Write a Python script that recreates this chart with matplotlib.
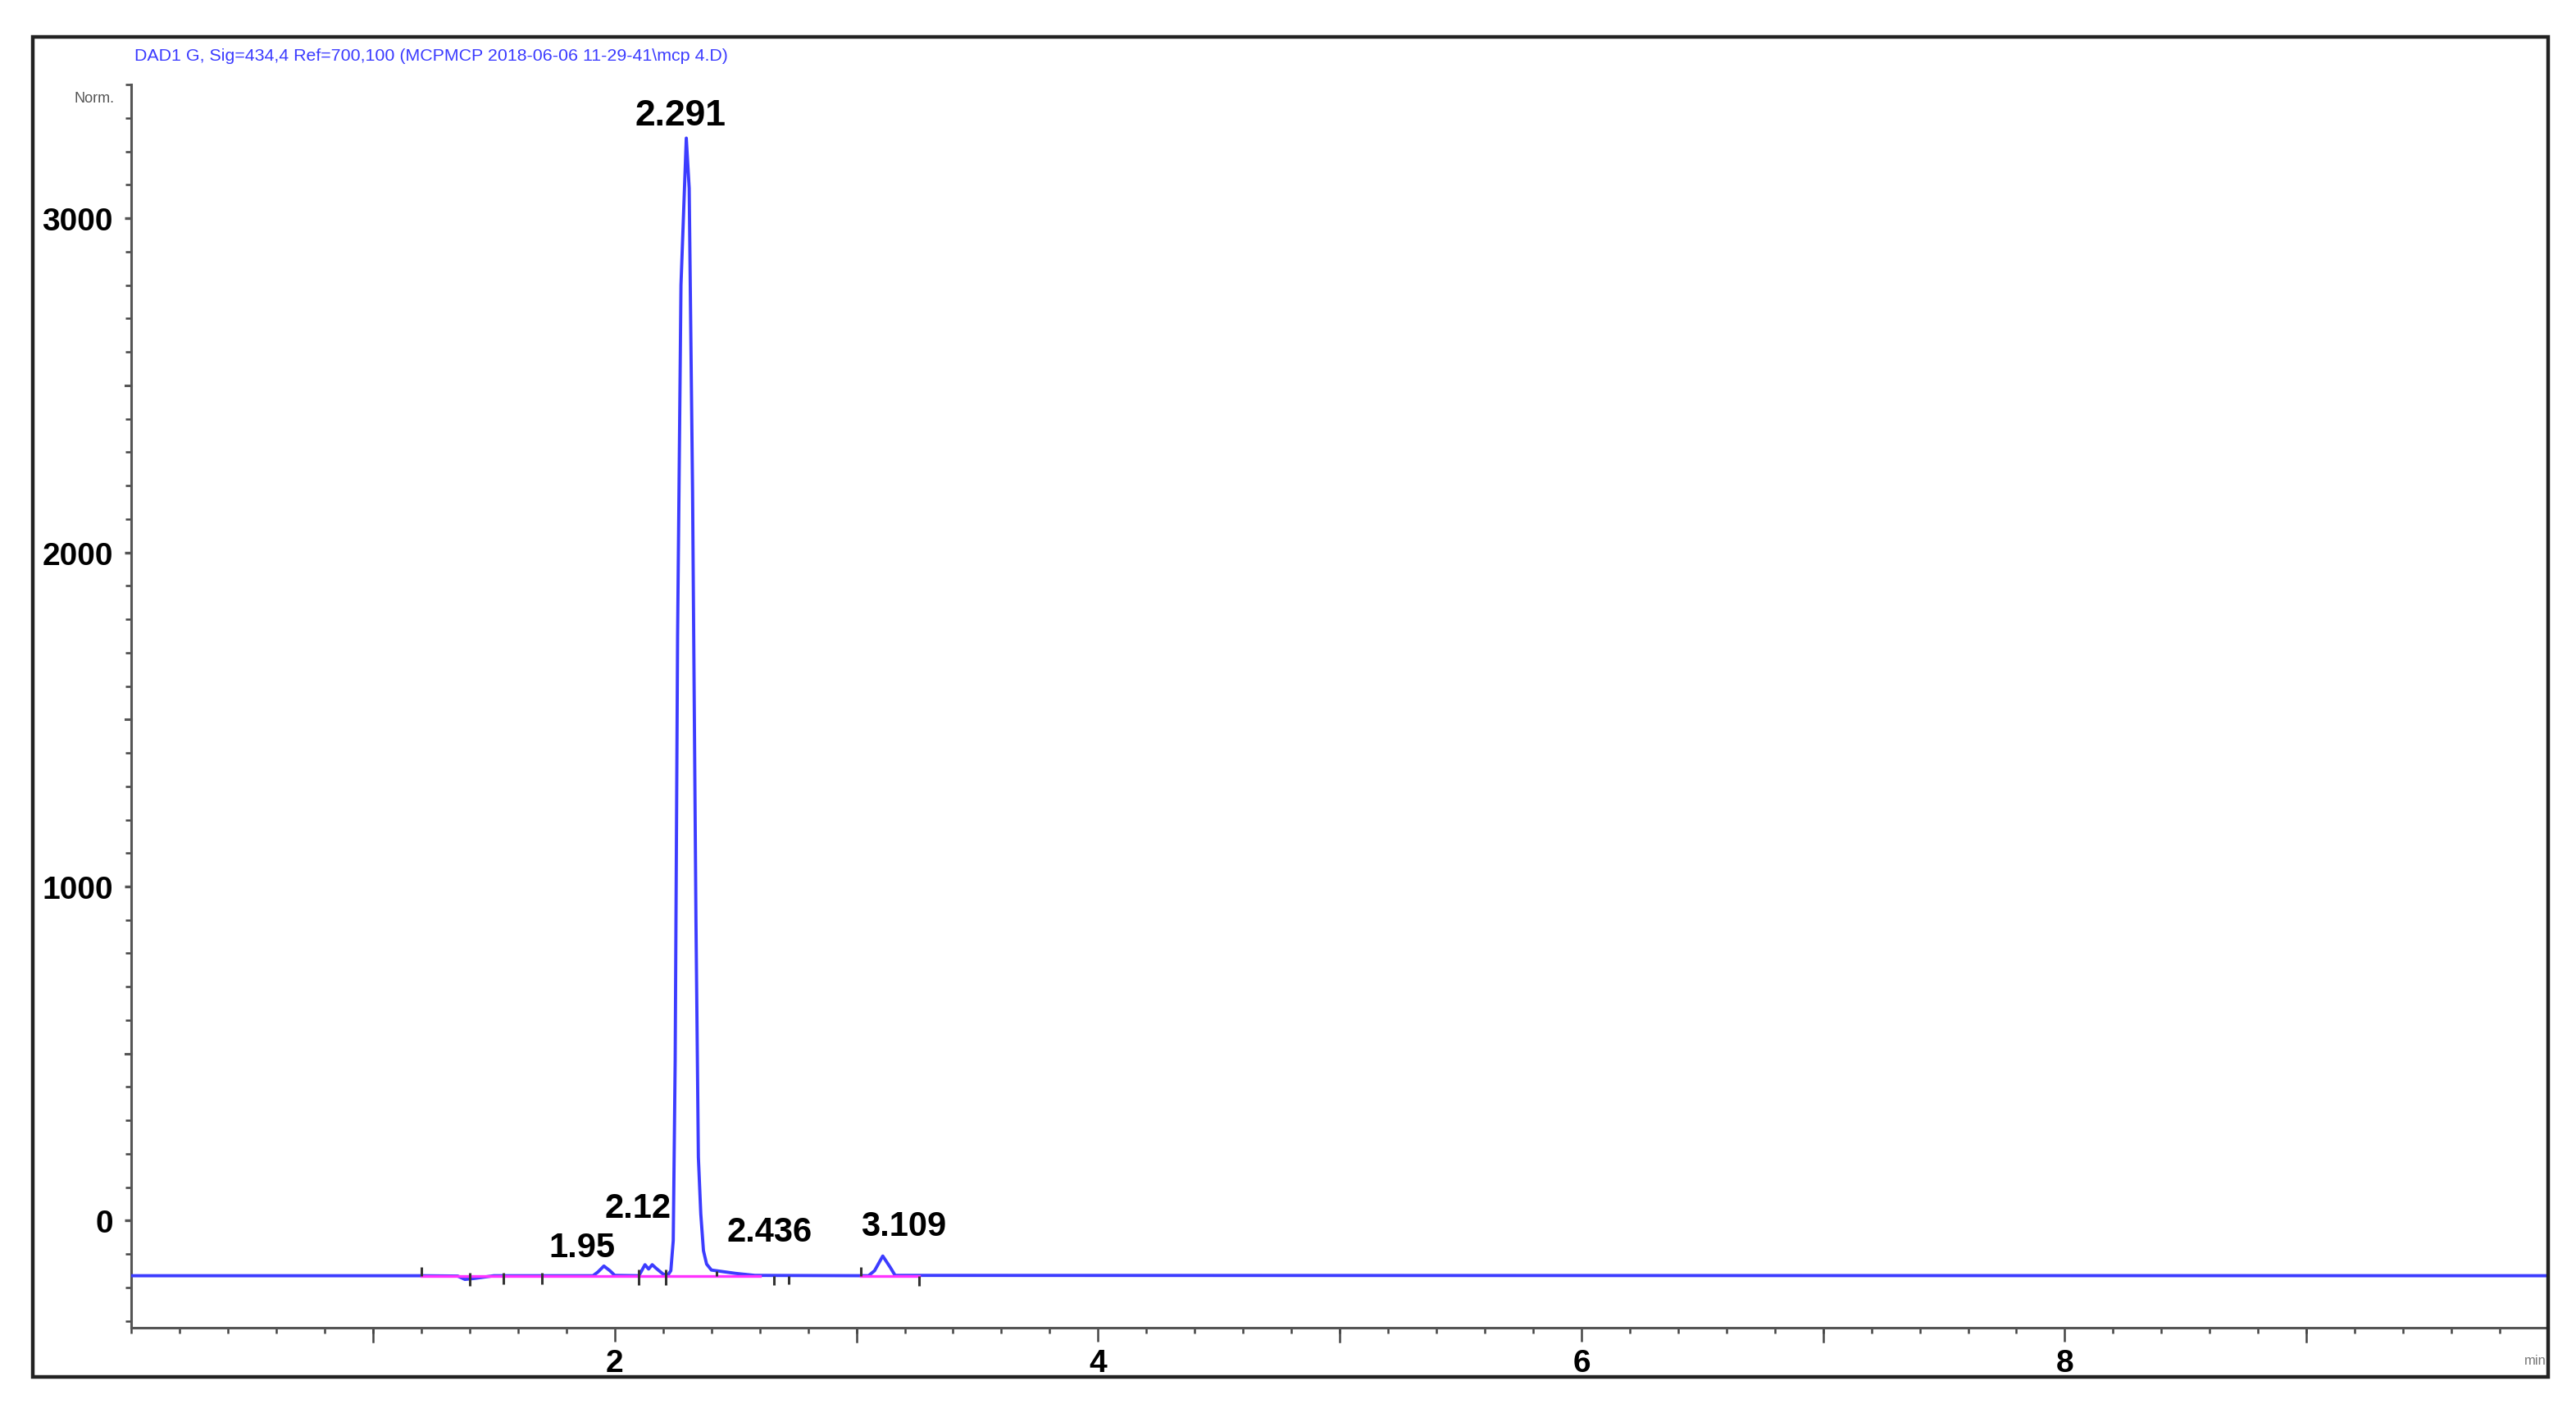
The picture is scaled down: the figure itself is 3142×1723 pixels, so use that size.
import numpy as np
import matplotlib
matplotlib.use("Agg")
import matplotlib.pyplot as plt
from matplotlib.patches import Rectangle
from matplotlib.ticker import MultipleLocator

plt.rcParams['font.family'] = ['Liberation Sans', 'DejaVu Sans']

# trace (min, mAU)
time = [0.0, 1.20, 1.35, 1.38, 1.42, 1.47, 1.50, 1.91, 1.93, 1.955, 1.98, 2.00,
        2.10, 2.125, 2.14, 2.155, 2.17, 2.20, 2.22, 2.232, 2.242, 2.250, 2.260, 2.274,
        2.296, 2.308, 2.322, 2.336, 2.346, 2.356, 2.367, 2.38, 2.40, 2.44,
        2.50, 2.58, 3.05, 3.075, 3.109, 3.14, 3.16, 10.0]
signal = [-165, -165, -166, -176, -173, -168, -165, -165, -154, -136, -150, -164,
          -165, -132, -145, -132, -142, -160, -163, -150, -60, 480, 1750, 2800,
          3240, 3090, 2180, 900, 190, 20, -90, -130, -148, -152,
          -158, -164, -165, -150, -106, -140, -164, -165]

# integration baselines (start, end)
base_start = [1.20, 3.02]
base_end = [2.60, 3.26]
base_level = -165

# integration event marks: time, low, high offsets
event_t = [1.20, 1.40, 1.54, 1.70, 2.10, 2.21, 2.42, 2.66, 2.72, 3.02, 3.26]
event_lo = [0, -30, -25, -25, -28, -28, 0, -28, -25, 0, -30]
event_hi = [25, 8, 10, 10, 18, 18, 14, 0, 0, 25, 0]

# peak labels
peak_lbl = ['2.291', '1.95', '2.12', '2.436', '3.109']
lbl_x = [2.273, 1.866, 2.096, 2.64, 3.195]
lbl_y = [3309, -79, 39, -34, -15]
lbl_size = [16, 15, 15, 15, 15]

# axis ticks
xtick_labels = [2, 4, 6, 8]
odd_minutes = [1, 3, 5, 7, 9]
half_steps = [500, 1500, 2500]

fig = plt.figure(figsize=(15.71, 8.62), dpi=200)
W, H = 1568.0, 860.0
ax = fig.add_axes([80 / W, 1 - 808 / H, (1551 - 80) / W, (808 - 52) / H])

ax.plot(time, signal, color='#3c3cff', lw=1.4, zorder=3)
for s, e in zip(base_start, base_end):
    ax.plot([s, e], [base_level, base_level], color='#ff33ff', lw=1.2, zorder=4)
ax.vlines(event_t, [base_level + l for l in event_lo],
          [base_level + h for h in event_hi], color='#333333', lw=1.1, zorder=5)

for t, x, y, fs in zip(peak_lbl, lbl_x, lbl_y, lbl_size):
    ax.text(x, y, t, ha='center', va='center', fontsize=fs,
            fontweight='bold', color='black')

ax.set_xlim(0, 10.0)
ax.set_ylim(-320, 3400)
ax.set_xticks(xtick_labels)
ax.xaxis.set_minor_locator(MultipleLocator(0.2))
ax.yaxis.set_major_locator(MultipleLocator(1000))
ax.yaxis.set_minor_locator(MultipleLocator(100))

for sp in ['top', 'right']:
    ax.spines[sp].set_visible(False)
for sp in ['left', 'bottom']:
    ax.spines[sp].set_color('#555555')
    ax.spines[sp].set_linewidth(1.1)

ax.tick_params(axis='x', which='major', length=6, width=0.9, color='#444444',
               labelsize=14, pad=3)
ax.tick_params(axis='x', which='minor', length=2.5, width=0.9, color='#444444')
ax.tick_params(axis='y', which='major', length=3, width=1.2, color='#555555',
               labelsize=14, pad=5)
ax.tick_params(axis='y', which='minor', length=2.5, width=0.9, color='#444444')
for lab in ax.get_xticklabels() + ax.get_yticklabels():
    lab.set_fontweight('bold')

# odd-minute ticks are as long as the labelled ones
for m in odd_minutes:
    ax.plot([m, m], [0, -0.0112], transform=ax.get_xaxis_transform(),
            color='#444444', lw=0.9, clip_on=False)
# half-thousand ticks on y are a little longer
for v in half_steps:
    ax.plot([0, -0.0025], [v, v], transform=ax.get_yaxis_transform(),
            color='#555555', lw=1.1, clip_on=False)

fig.text(82 / W, 1 - 34 / H,
         'DAD1 G, Sig=434,4 Ref=700,100 (MCPMCP 2018-06-06 11-29-41\\mcp 4.D)',
         ha='left', va='center', fontsize=7.7, color='#3b3bff')
fig.text(45 / W, 1 - 60 / H, 'Norm.', ha='left', va='center', fontsize=6.5,
         color='#555555')
fig.text(1550 / W, 1 - 828 / H, 'min', ha='right', va='center', fontsize=6,
         color='#777777')

fig.patches.append(Rectangle((20 / W, 1 - 838 / H), (1551 - 20) / W, (838 - 23) / H,
                             transform=fig.transFigure, fill=False,
                             edgecolor='#222222', lw=1.6, zorder=10))

fig.savefig('out.png', dpi=200, facecolor='white')
